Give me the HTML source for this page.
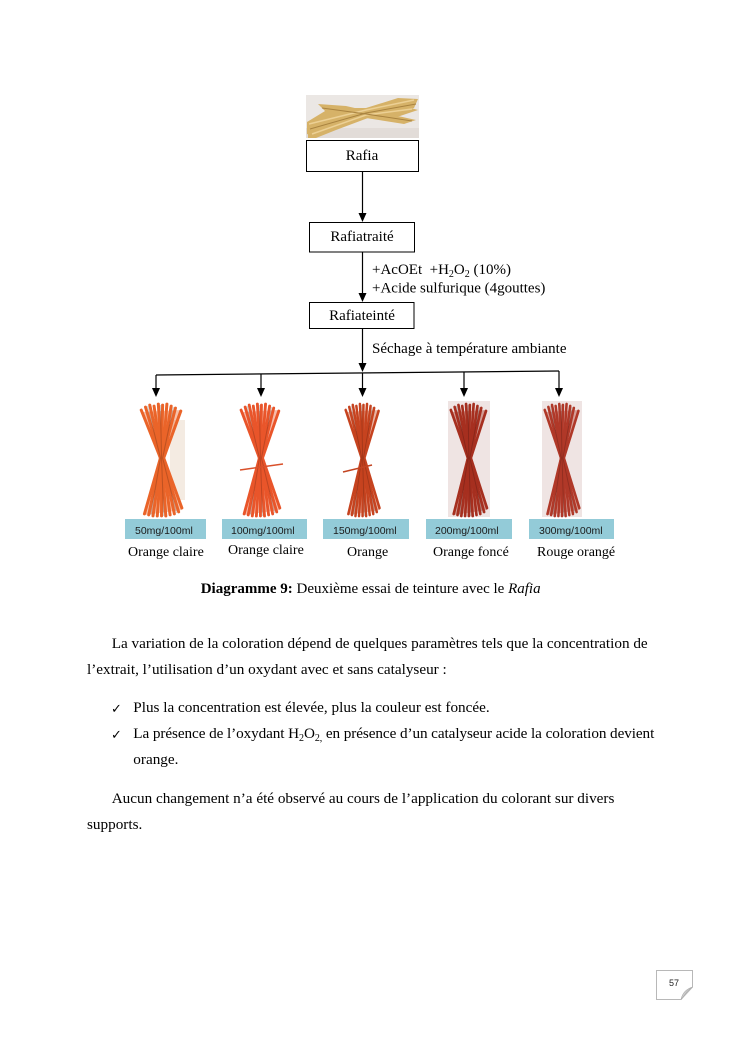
<!DOCTYPE html>
<html>
<head>
<meta charset="utf-8">
<style>
  html,body{margin:0;padding:0;background:#fff;}
  body{width:745px;height:1053px;overflow:hidden;}
  svg{display:block;}
  .t{font-family:"Liberation Serif","Times New Roman",serif;fill:#000;}
  .s{font-family:"Liberation Sans",Arial,sans-serif;fill:#1b1b1b;}
</style>
</head>
<body>
<svg width="745" height="1053" viewBox="0 0 745 1053" xmlns="http://www.w3.org/2000/svg">
  <defs>
    <symbol id="bundle" viewBox="0 0 44 115" preserveAspectRatio="none" overflow="visible">
      <path d="M4,10 L41,8 L24,54 L41,108 L6,113 L20,58 Z" fill="currentColor" opacity="0.4"/>
      <g fill="none" stroke="currentColor" stroke-width="2.8" stroke-linecap="round">
        <path d="M3,8 L21,56 L6,112"/>
        <path d="M7,5 L21,56 L10,113"/>
        <path d="M11,3 L22,56 L14,114"/>
        <path d="M15,4 L22,56 L18,114"/>
        <path d="M19,2 L22,56 L22,114"/>
        <path d="M23,3 L22,56 L26,114"/>
        <path d="M27,2 L23,56 L30,113"/>
        <path d="M31,4 L23,56 L34,112"/>
        <path d="M35,6 L23,56 L38,110"/>
        <path d="M40,9 L24,56 L41,106"/>
      </g>
      <g fill="none" stroke="#000" stroke-opacity="0.18" stroke-width="1">
        <path d="M9,4 L21,56 L12,113"/>
        <path d="M21,3 L22,56 L24,114"/>
        <path d="M33,5 L23,56 L36,111"/>
      </g>
    </symbol>
  </defs>

  <!-- Top rafia photo -->
  <rect x="306" y="95" width="113" height="43" fill="#ebe7e4"/>
  <rect x="306" y="128" width="113" height="10" fill="#e2dcd8"/>
  <g fill="#d6b268">
    <path d="M307,122 L330,108 L366,108 L398,98 L418,99 L414,108 L372,114 L334,126 L312,136 L307,134 Z"/>
    <path d="M308,132 L340,118 L366,112 L404,106 L418,110 L400,116 L368,118 L336,130 L316,138 L308,138 Z"/>
    <path d="M318,104 L346,106 L368,111 L398,116 L416,120 L404,124 L366,118 L326,112 Z"/>
  </g>
  <g stroke="#ecd095" stroke-width="1.5" fill="none">
    <path d="M309,124 L366,110 L414,100"/>
    <path d="M312,134 L366,115 L412,109"/>
  </g>
  <g stroke="#a98340" stroke-width="1" fill="none">
    <path d="M310,129 L366,113 L416,104"/>
    <path d="M322,108 L366,114 L412,121"/>
  </g>

  <!-- Boxes -->
  <g fill="#fff" stroke="#000" stroke-width="1">
    <rect x="306.5" y="140.5" width="112" height="31"/>
    <rect x="309.5" y="222.5" width="105" height="29.5"/>
    <rect x="309.5" y="302.5" width="104.5" height="26"/>
  </g>
  <text class="t" x="362" y="160" font-size="15" text-anchor="middle">Rafia</text>
  <text class="t" x="362" y="241" font-size="15" text-anchor="middle">Rafiatraité</text>
  <text class="t" x="362" y="320" font-size="15" text-anchor="middle">Rafiateinté</text>

  <!-- Arrows -->
  <g stroke="#000" stroke-width="1.2" fill="none">
    <line x1="362.5" y1="172" x2="362.5" y2="215"/>
    <line x1="362.5" y1="252" x2="362.5" y2="295"/>
    <line x1="362.5" y1="329" x2="362.5" y2="364"/>
    <line x1="156" y1="375" x2="559" y2="371"/>
    <line x1="156" y1="375" x2="156" y2="390"/>
    <line x1="261" y1="374" x2="261" y2="390"/>
    <line x1="362.5" y1="373" x2="362.5" y2="390"/>
    <line x1="464" y1="372" x2="464" y2="390"/>
    <line x1="559" y1="371" x2="559" y2="390"/>
  </g>
  <g fill="#000">
    <polygon points="358.5,213 366.5,213 362.5,222"/>
    <polygon points="358.5,293 366.5,293 362.5,302"/>
    <polygon points="358.5,363 366.5,363 362.5,372"/>
    <polygon points="152,388 160,388 156,397"/>
    <polygon points="257,388 265,388 261,397"/>
    <polygon points="358.5,388 366.5,388 362.5,397"/>
    <polygon points="460,388 468,388 464,397"/>
    <polygon points="555,388 563,388 559,397"/>
  </g>

  <!-- Step labels -->
  <text class="t" x="372" y="274" font-size="15" xml:space="preserve">+AcOEt  +H<tspan font-size="10" dy="3">2</tspan><tspan dy="-3">O</tspan><tspan font-size="10" dy="3">2</tspan><tspan dy="-3"> (10%)</tspan></text>
  <text class="t" x="372" y="292.5" font-size="15">+Acide sulfurique (4gouttes)</text>
  <text class="t" x="372" y="353" font-size="15">Séchage à température ambiante</text>

  <!-- Bundle photos -->
  <rect x="170" y="420" width="15" height="80" fill="#efe3d6" opacity="0.7"/>
  <use href="#bundle" x="0" y="0" width="44" height="115" transform="translate(138,402) scale(1.07,1)" style="color:#ea6429"/>
  <use href="#bundle" x="0" y="0" width="44" height="115" transform="translate(238,402) scale(1.02,1)" style="color:#e9552a"/>
  <line x1="240" y1="470" x2="283" y2="464" stroke="#d9502a" stroke-width="1.5"/>
  <use href="#bundle" x="0" y="0" width="44" height="115" transform="translate(343,402) scale(0.89,1)" style="color:#c6431f"/>
  <line x1="343" y1="472" x2="372" y2="465" stroke="#c24421" stroke-width="1.5"/>
  <rect x="448" y="401" width="42" height="116" fill="#efe4e3"/>
  <use href="#bundle" x="0" y="0" width="44" height="115" transform="translate(448,402) scale(0.95,1)" style="color:#a62f1f"/>
  <rect x="542" y="401" width="40" height="116" fill="#efe4e3"/>
  <use href="#bundle" x="0" y="0" width="44" height="115" transform="translate(542,402) scale(0.91,1)" style="color:#b03828"/>

  <!-- Concentration labels -->
  <g fill="#93cbd8">
    <rect x="125" y="519" width="81" height="20"/>
    <rect x="222" y="519" width="85" height="20"/>
    <rect x="323" y="519" width="86" height="20"/>
    <rect x="426" y="519" width="86" height="20"/>
    <rect x="529" y="519" width="85" height="20"/>
  </g>
  <g class="s" font-size="10.5">
    <text x="135" y="534">50mg/100ml</text>
    <text x="231" y="534">100mg/100ml</text>
    <text x="333" y="534">150mg/100ml</text>
    <text x="435" y="534">200mg/100ml</text>
    <text x="539" y="534">300mg/100ml</text>
  </g>
  <g class="t" font-size="14">
    <text x="128" y="556">Orange claire</text>
    <text x="228" y="554">Orange claire</text>
    <text x="347" y="556">Orange</text>
    <text x="433" y="556">Orange foncé</text>
    <text x="537" y="556">Rouge orangé</text>
  </g>

  <!-- Caption -->
  <text class="t" x="200.7" y="593" font-size="15"><tspan font-weight="bold">Diagramme 9:</tspan> Deuxième essai de teinture avec le <tspan font-style="italic">Rafia</tspan></text>

  <!-- Body -->
  <g class="t" font-size="15.2">
    <text x="111.7" y="648">La variation de la coloration dépend de quelques paramètres tels que la concentration de</text>
    <text x="87" y="674">l’extrait, l’utilisation d’un oxydant avec et sans catalyseur :</text>
    <text x="111" y="713" font-family="DejaVu Sans, sans-serif" font-size="13">✓</text>
    <text x="133.3" y="712">Plus la concentration est élevée, plus la couleur est foncée.</text>
    <text x="111" y="739" font-family="DejaVu Sans, sans-serif" font-size="13">✓</text>
    <text x="133.3" y="738" textLength="521" lengthAdjust="spacing">La présence de l’oxydant H<tspan font-size="10" dy="3">2</tspan><tspan dy="-3">O</tspan><tspan font-size="10" dy="3">2,</tspan><tspan dy="-3"> en présence d’un catalyseur acide la coloration devient</tspan></text>
    <text x="133.3" y="764">orange.</text>
    <text x="111.7" y="803">Aucun changement n’a été observé au cours de l’application du colorant sur divers</text>
    <text x="87" y="829">supports.</text>
  </g>

  <!-- Page number -->
  <path d="M656.5,970.5 L692.5,970.5 L692.5,987 L681,999.5 L656.5,999.5 Z" fill="#fff" stroke="#b8b8b8" stroke-width="1"/>
  <path d="M681,999.5 Q683,990 692.5,987 Q688,990 686,993 Q684,996 681,999.5 Z" fill="#cfcfcf" stroke="#a8a8a8" stroke-width="0.6"/>
  <text x="674" y="986" font-family="Liberation Sans, Arial, sans-serif" font-size="9" text-anchor="middle" fill="#222">57</text>
</svg>
</body>
</html>
